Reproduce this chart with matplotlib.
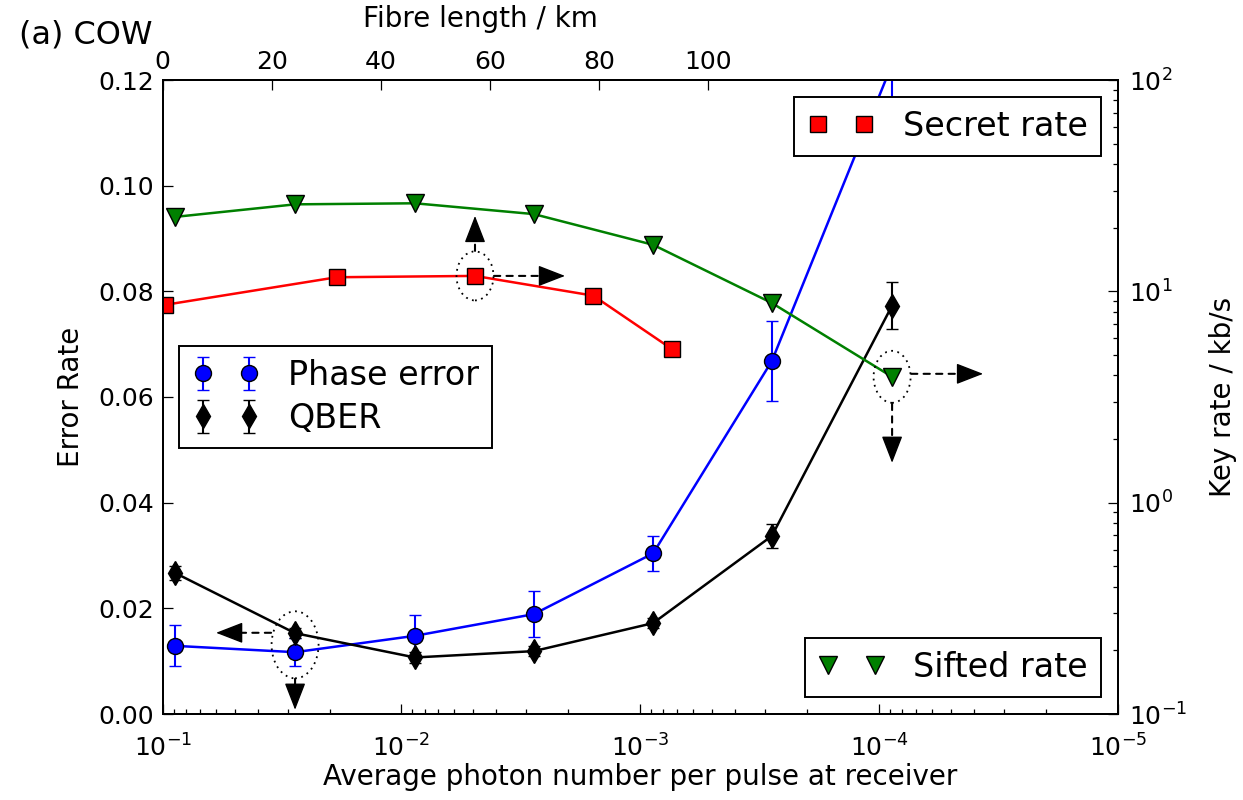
import numpy as np
import matplotlib
matplotlib.use("Agg")
import matplotlib.pyplot as plt
import matplotlib.transforms as mtransforms
from matplotlib.patches import Ellipse
from matplotlib.ticker import FormatStrFormatter

# measured photon number per pulse at receiver
mu = [8.88e-2, 2.79e-2, 8.78e-3, 2.79e-3, 8.83e-4, 2.81e-4, 8.81e-5]
mu_secret = [9.78e-2, 1.867e-2, 4.92e-3, 1.572e-3, 7.38e-4]

# error rates (left axis)
phase_err = [0.0129, 0.0117, 0.0148, 0.0189, 0.0304, 0.0668, 0.123]
phase_err_sd = [0.0039, 0.0027, 0.0039, 0.0043, 0.0033, 0.0075, 0.010]
qber = [0.0267, 0.0153, 0.0107, 0.0119, 0.0172, 0.0337, 0.0773]
qber_sd = [0.0014, 0.0010, 0.0010, 0.0010, 0.0010, 0.0022, 0.0045]

# key rates in kb/s (right axis)
sifted_rate = [22.5, 25.8, 26.1, 23.2, 16.6, 8.81, 3.94]
secret_rate = [8.63, 11.66, 11.83, 9.54, 5.34]

# top axis: fibre length in km covering the same 4 decades
fibre_max = 175.2
fibre_ticks = [0, 20, 40, 60, 80, 100]

TICK_FS = 18
LABEL_FS = 20
LEG_FS = 24

plt.rcParams['font.family'] = ['DejaVu Sans']
plt.rcParams['mathtext.fontset'] = 'dejavusans'

fig = plt.figure(figsize=(12.43, 8), dpi=100)
ax = fig.add_axes([0.1309, 0.1075, 0.7683, 0.7925])
ax_r = ax.twinx()
ax_t = ax.twiny()

# error rates
ax.plot(mu, phase_err, '-', color='b', lw=1.8, zorder=2)
ax.plot(mu, qber, '-', color='k', lw=1.8, zorder=2)
pe = ax.errorbar(mu, phase_err, yerr=phase_err_sd, fmt='o', color='b', mfc='b', mec='k',
                 mew=1.0, ms=11.5, capsize=4.5, elinewidth=1.5, capthick=1.5,
                 label='Phase error', zorder=3)
qb = ax.errorbar(mu, qber, yerr=qber_sd, fmt='d', color='k', mfc='k', mec='k',
                 mew=1.0, ms=12, capsize=4.5, elinewidth=1.5, capthick=1.5,
                 label='QBER', zorder=3)

# key rates
ax_r.plot(mu_secret, secret_rate, '-', color='r', lw=1.8)
ax_r.plot(mu, sifted_rate, '-', color='g', lw=1.8)
sec, = ax_r.plot(mu_secret, secret_rate, 's', mfc='r', mec='k', mew=1.0, ms=12,
                 label='Secret rate')
sif, = ax_r.plot(mu, sifted_rate, 'v', mfc='g', mec='k', mew=1.0, ms=12.5,
                 label='Sifted rate')

ax.set_xscale('log')
ax.set_xlim(1e-1, 1e-5)
ax.set_ylim(0, 0.12)
ax.set_yticks(np.arange(0, 0.121, 0.02))
ax.yaxis.set_major_formatter(FormatStrFormatter('%.2f'))
ax_r.set_yscale('log')
ax_r.set_ylim(0.1, 100)
ax_t.set_xlim(0, fibre_max)
ax_t.set_xticks(fibre_ticks)

for a in (ax, ax_r, ax_t):
    a.tick_params(which='major', direction='in', length=7, width=0.9, labelsize=TICK_FS)
    a.tick_params(which='minor', direction='in', length=3.6, width=0.9)
    for s in a.spines.values():
        s.set_linewidth(1.4)
ax.tick_params(axis='y', pad=6)
ax.tick_params(axis='x', pad=15)
ax_r.tick_params(axis='y', pad=8)
ax_t.tick_params(axis='x', pad=4)

ax.set_xlabel('Average photon number per pulse at receiver', fontsize=LABEL_FS, labelpad=1)
ax.set_ylabel('Error Rate', fontsize=LABEL_FS, labelpad=10)
ax_r.set_ylabel('Key rate / kb/s', fontsize=LABEL_FS, labelpad=16)
ax_t.set_xlabel('Fibre length / km', fontsize=LABEL_FS)
ax_t.xaxis.set_label_coords(0.333, 1.083)
fig.text(0.015, 0.945, '(a) COW', fontsize=23)

# legends, markers only
leg_kw = dict(numpoints=2, fontsize=LEG_FS, fancybox=False, framealpha=1,
              edgecolor='k', handlelength=2.0, handletextpad=0.85, borderpad=0.4)
l1 = ax.legend(handles=[pe, qb], loc='center left', labelspacing=0.3, **leg_kw)
l1.get_frame().set_linewidth(1.4)
l2 = ax_r.legend(handles=[sec], loc='upper right', **leg_kw)
l2.get_frame().set_linewidth(1.4)
ax_r.add_artist(l2)
l3 = ax_r.legend(handles=[sif], loc='lower right', **leg_kw)
l3.get_frame().set_linewidth(1.4)


def px_offset(a, dx, dy):
    return mtransforms.offset_copy(a.transData, fig=fig, x=dx, y=dy, units='dots')


def mark_point(a, x, y, w, h, arrows):
    """Dotted ellipse (w, h in px) round a point with dashed arrows (tail, tip in px)."""
    tr = fig.dpi_scale_trans + mtransforms.ScaledTranslation(x, y, a.transData)
    a.add_patch(Ellipse((0, 0), w / 100, h / 100, transform=tr, fill=False,
                        ls=(0, (1, 2.5)), lw=1.3, ec='k', zorder=5))
    head = 24
    for (tx, ty), (hx, hy) in arrows:
        d = np.hypot(hx - tx, hy - ty)
        bx = hx - (hx - tx) * head / d
        by = hy - (hy - ty) * head / d
        # dashed shaft
        a.annotate('', xy=(x, y), xycoords=px_offset(a, bx, by),
                   xytext=(x, y), textcoords=px_offset(a, tx, ty),
                   arrowprops=dict(arrowstyle='-', ls=(0, (3, 3)), lw=1.5,
                                   color='k', shrinkA=0, shrinkB=0), zorder=5)
        # solid head
        a.annotate('', xy=(x, y), xycoords=px_offset(a, hx, hy),
                   xytext=(x, y), textcoords=px_offset(a, bx, by),
                   arrowprops=dict(arrowstyle='-|>,head_length=0.85,head_width=0.33',
                                   mutation_scale=20, lw=1.0, color='k',
                                   shrinkA=0, shrinkB=0), zorder=5)


mark_point(ax_r, mu_secret[2], secret_rate[2], 37, 49,
           [((0, 25), (0, 60)), ((19, 0), (90, 0))])
mark_point(ax_r, mu[6], sifted_rate[6], 37, 52,
           [((19, 3), (91, 3)), ((0, -27), (0, -86))])
mark_point(ax, mu[1], 0.0131, 47, 67,
           [((-24, 12), (-79, 12)), ((0, -34), (0, -65))])

fig.savefig('out.png', dpi=100)
